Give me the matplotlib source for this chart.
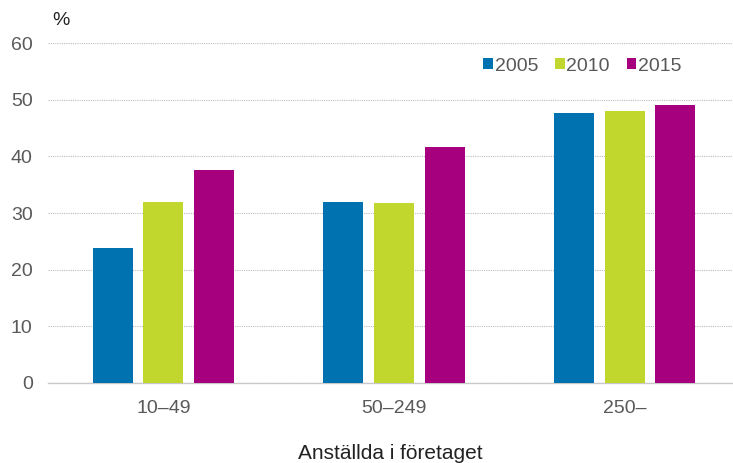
import matplotlib
matplotlib.use('agg')
import matplotlib.pyplot as plt
import numpy as np

plt.rcParams['font.family'] = ['Liberation Sans', 'DejaVu Sans']

categories = ['10–49', '50–249', '250–']
years = ['2005', '2010', '2015']
v2005 = [23.8, 31.9, 47.6]
v2010 = [31.9, 31.8, 48.0]
v2015 = [37.6, 41.6, 49.1]
colors = ['#0072b0', '#c1d72e', '#a6007f']

fig = plt.figure(figsize=(7.33, 4.63), dpi=100)
ax = fig.add_axes([0.0655, 0.1728, 0.9345, 0.7342])

x = np.arange(len(categories))
w = 0.173
step = 0.22
for i, (vals, lab) in enumerate(zip([v2005, v2010, v2015], years)):
    ax.bar(x + (i - 1) * step, vals, w, color=colors[i], label=lab, zorder=3)

ax.set_xlim(-0.5, 2.47)
ax.set_ylim(0, 60)
ax.set_yticks(range(0, 61, 10))
ax.set_xticks(x)
ax.set_xticklabels(categories)
ax.grid(axis='y', color='#bdbdbd', linestyle=(0, (1, 1)), linewidth=0.8, zorder=0)
for s in ['top', 'right', 'left']:
    ax.spines[s].set_visible(False)
ax.spines['bottom'].set_color('#c8c8c8')
ax.spines['bottom'].set_linewidth(1.0)
ax.tick_params(axis='both', length=0, labelsize=14, labelcolor='#595959')
ax.tick_params(axis='x', pad=12)
ax.tick_params(axis='y', pad=11)

ax.set_xlabel('Anställda i företaget', fontsize=15, color='#222222', labelpad=20)
fig.text(0.071, 0.955, '%', fontsize=14, color='#222222', va='center', ha='left')

fig.legend(loc='center right', bbox_to_anchor=(0.930, 0.857), ncol=3, frameon=False,
           fontsize=14, handlelength=0.5, handleheight=0.5, handletextpad=0.1,
           columnspacing=0.85, borderpad=0, borderaxespad=0, labelcolor='#595959')

plt.savefig('out.png', dpi=100)
